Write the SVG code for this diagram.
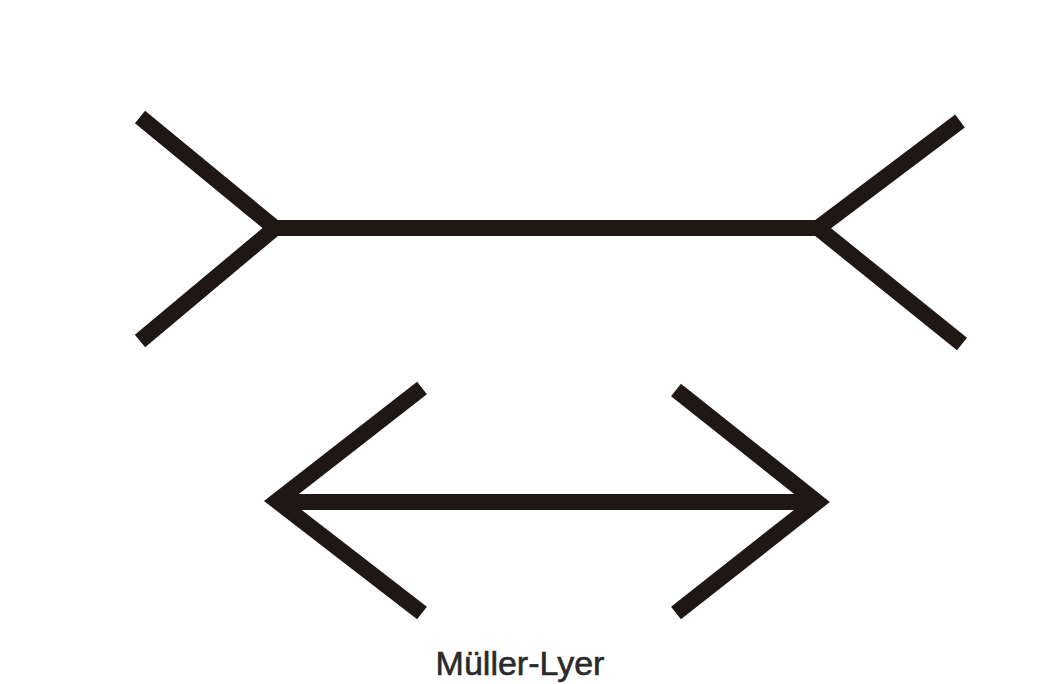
<svg xmlns="http://www.w3.org/2000/svg" width="1037" height="684" viewBox="0 0 1037 684">
<style>
.ln{fill:none;stroke:#1e1714;stroke-width:16;stroke-linecap:butt;stroke-linejoin:miter}
.lbl{font-family:"Liberation Sans",Arial,sans-serif;font-size:34px;fill:#2a2a2a;stroke:#2a2a2a;stroke-width:0.6}
</style>
<rect width="1037" height="684" fill="#ffffff"/>
<g id="top-figure">
<polyline class="ln" points="140,117 275,228 140,341"/>
<polyline class="ln" points="960,121 818,228 962,344"/>
<line class="ln" x1="272" y1="228" x2="821" y2="228"/>
</g>
<g id="bottom-figure">
<polyline class="ln" points="422,388 277,501 422,613"/>
<polyline class="ln" points="676,390 817,502 676,613"/>
<line class="ln" x1="277" y1="502" x2="817" y2="502"/>
</g>
<text class="lbl" x="520" y="675" text-anchor="middle">Müller-Lyer</text>
</svg>
